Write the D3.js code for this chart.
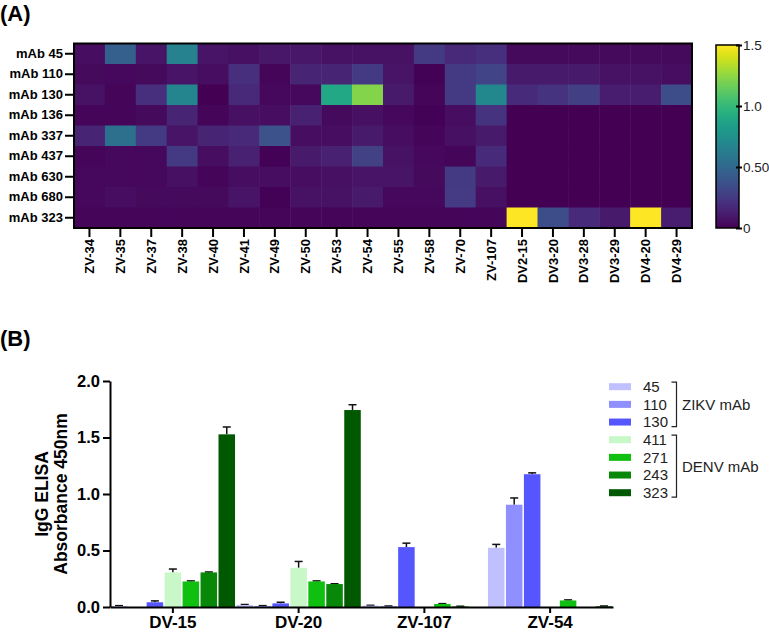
<!DOCTYPE html>
<html><head><meta charset="utf-8">
<script src="https://cdn.jsdelivr.net/npm/d3@7"></script>
<style>body{margin:0;background:#fff}svg{display:block;font-family:"Liberation Sans",Arial,sans-serif}</style>
</head><body><svg id="c" width="769" height="633"></svg>
<script>
// ---------- Panel A data ----------
const heatRows = ["mAb 45","mAb 110","mAb 130","mAb 136","mAb 337","mAb 437","mAb 630","mAb 680","mAb 323"];
const heatCols = ["ZV-34","ZV-35","ZV-37","ZV-38","ZV-40","ZV-41","ZV-49","ZV-50","ZV-53","ZV-54","ZV-55","ZV-58","ZV-70","ZV-107","DV2-15","DV3-20","DV3-28","DV3-29","DV4-20","DV4-29"];
const rowMab45  = [0.05,0.45,0.08,0.66,0.08,0.06,0.09,0.09,0.07,0.07,0.07,0.25,0.17,0.2,0.04,0.04,0.04,0.04,0.04,0.04];
const rowMab110 = [0.04,0.03,0.04,0.08,0.05,0.2,0.02,0.15,0.15,0.25,0.08,0.01,0.25,0.3,0.1,0.1,0.1,0.07,0.07,0.05];
const rowMab130 = [0.07,0.02,0.2,0.68,0.0,0.17,0.03,0.03,0.9,1.22,0.1,0.02,0.25,0.7,0.18,0.22,0.28,0.12,0.12,0.35];
const rowMab136 = [0.02,0.02,0.04,0.15,0.02,0.06,0.05,0.14,0.04,0.06,0.03,0.01,0.05,0.22,0.0,0.0,0.0,0.0,0.0,0.0];
const rowMab337 = [0.15,0.55,0.25,0.08,0.15,0.17,0.38,0.05,0.05,0.1,0.05,0.02,0.06,0.1,0.0,0.0,0.0,0.0,0.0,0.0];
const rowMab437 = [0.02,0.03,0.03,0.25,0.05,0.14,0.01,0.1,0.14,0.29,0.07,0.03,0.02,0.18,0.0,0.0,0.0,0.0,0.0,0.0];
const rowMab630 = [0.03,0.03,0.03,0.06,0.02,0.05,0.05,0.05,0.06,0.08,0.08,0.04,0.25,0.1,0.0,0.0,0.0,0.0,0.0,0.0];
const rowMab680 = [0.03,0.05,0.04,0.04,0.04,0.08,0.01,0.07,0.07,0.1,0.03,0.03,0.26,0.06,0.0,0.0,0.0,0.0,0.0,0.0];
const rowMab323 = [0.02,0.02,0.02,0.02,0.02,0.02,0.02,0.02,0.02,0.02,0.02,0.02,0.02,0.02,1.5,0.35,0.18,0.1,1.5,0.12];
const heatValues = [rowMab45,rowMab110,rowMab130,rowMab136,rowMab337,rowMab437,rowMab630,rowMab680,rowMab323];
const colorbarTicks = [0,0.5,1.0,1.5];
const colorbarTickLabels = ["0","0.50","1.0","1.5"];

// ---------- Panel B data ----------
const groups = ["DV-15","DV-20","ZV-107","ZV-54"];
const seriesNames = ["45","110","130","411","271","243","323"];
const seriesColors = ["#c0c0ff","#8f8fff","#5656ff","#c8f8c8","#10c010","#088808","#005800"];
const val45  = [0.008,0.018,0.012,0.524];  const err45  = [0.004,0.004,0.003,0.03];
const val110 = [0,0.008,0.006,0.905];      const err110 = [0,0.004,0.003,0.06];
const val130 = [0.042,0.032,0.53,1.175];   const err130 = [0.012,0.01,0.035,0.012];
const val411 = [0.306,0.347,0,0];          const err411 = [0.03,0.056,0,0];
const val271 = [0.226,0.226,0.027,0.058];  const err271 = [0.005,0.005,0.003,0.005];
const val243 = [0.306,0.203,0.005,0];      const err243 = [0.004,0.003,0.002,0];
const val323 = [1.528,1.743,0,0.006];      const err323 = [0.065,0.047,0,0.003];
const seriesVals = [val45,val110,val130,val411,val271,val243,val323];
const seriesErrs = [err45,err110,err130,err411,err271,err243,err323];
const yTicks = [0,0.5,1.0,1.5,2.0];
const legendGroups = [{label:"ZIKV mAb", from:0, to:2},{label:"DENV mAb", from:3, to:6}];

const svg = d3.select("#c");

// ===== Panel A =====
svg.append("text").attr("x",0).attr("y",21).attr("font-size",22).attr("font-weight","bold").text("(A)");

const hx = d3.scaleBand().domain(heatCols).range([74,692]);
const hy = d3.scaleBand().domain(heatRows).range([43.5,228]);
const hcolor = d3.scaleSequential(d3.interpolateViridis).domain([0,1.5]);

const cells = [];
heatRows.forEach((r,i)=>heatCols.forEach((c,j)=>cells.push({r,c,v:heatValues[i][j]})));
svg.append("g").selectAll("rect").data(cells).join("rect")
  .attr("x",d=>hx(d.c)).attr("y",d=>hy(d.r))
  .attr("width",hx.bandwidth()+0.5).attr("height",hy.bandwidth()+0.5)
  .attr("fill",d=>hcolor(d.v));
svg.append("rect").attr("x",74).attr("y",43.5).attr("width",618).attr("height",184.5)
  .attr("fill","none").attr("stroke","#000").attr("stroke-width",2);

const yAxA = svg.append("g").attr("transform","translate(73,0)")
  .call(d3.axisLeft(hy).tickSize(8).tickPadding(2));
yAxA.select(".domain").remove();
yAxA.selectAll("line").attr("stroke-width",2);
yAxA.selectAll("text").attr("font-size",13).attr("font-weight","bold").attr("fill","#000");

const xAxA = svg.append("g").attr("transform","translate(0,229)")
  .call(d3.axisBottom(hx).tickSize(8).tickPadding(2));
xAxA.select(".domain").remove();
xAxA.selectAll("line").attr("stroke-width",2);
xAxA.selectAll("text").attr("font-size",13).attr("font-weight","bold").attr("fill","#000")
  .attr("transform","rotate(-90)").attr("text-anchor","end")
  .attr("x",-10).attr("y",0).attr("dy","0.35em");

// colorbar
const defs = svg.append("defs");
const grad = defs.append("linearGradient").attr("id","vir").attr("x1",0).attr("y1",1).attr("x2",0).attr("y2",0);
d3.range(0,1.0001,0.05).forEach(t=>grad.append("stop").attr("offset",t).attr("stop-color",d3.interpolateViridis(t)));
const cy = d3.scaleLinear().domain([0,1.5]).range([228,45]);
svg.append("rect").attr("x",716).attr("y",45).attr("width",23).attr("height",183)
  .attr("fill","url(#vir)").attr("stroke","#000").attr("stroke-width",1.5);
const cAx = svg.append("g").attr("transform","translate(736,0)")
  .call(d3.axisRight(cy).tickValues(colorbarTicks).tickFormat((d,i)=>colorbarTickLabels[i]).tickSize(6).tickPadding(1));
cAx.select(".domain").remove();
cAx.selectAll("line").attr("stroke-width",2);
cAx.selectAll("text").attr("font-size",13.5).attr("fill","#222");

// ===== Panel B =====
svg.append("text").attr("x",0).attr("y",346).attr("font-size",22).attr("font-weight","bold").text("(B)");

const bx = d3.scaleBand().domain(groups).range([110,613]);
const bx1 = d3.scaleBand().domain(seriesNames).range([0,bx.bandwidth()]).paddingInner(0.08).paddingOuter(0.04);
const by = d3.scaleLinear().domain([0,2]).range([607,381]);

const bars = [];
groups.forEach((g,gi)=>seriesNames.forEach((s,si)=>bars.push({g,s,si,v:seriesVals[si][gi],e:seriesErrs[si][gi]})));

// error bars
const eg = svg.append("g").attr("stroke","#111").attr("stroke-width",1.5);
bars.filter(d=>d.e>0).forEach(d=>{
  const cx = bx(d.g)+bx1(d.s)+bx1.bandwidth()/2;
  eg.append("line").attr("x1",cx).attr("x2",cx).attr("y1",by(d.v)).attr("y2",by(d.v+d.e));
  eg.append("line").attr("x1",cx-4).attr("x2",cx+4).attr("y1",by(d.v+d.e)).attr("y2",by(d.v+d.e));
});
svg.append("g").selectAll("rect").data(bars.filter(d=>d.v>0)).join("rect")
  .attr("x",d=>bx(d.g)+bx1(d.s)).attr("width",bx1.bandwidth())
  .attr("y",d=>by(d.v)).attr("height",d=>by(0)-by(d.v))
  .attr("fill",d=>seriesColors[d.si]);

const yAxB = svg.append("g").attr("transform","translate(110,0)")
  .call(d3.axisLeft(by).tickValues(yTicks).tickFormat(d3.format(".1f")).tickSize(7).tickPadding(3).tickSizeOuter(0));
yAxB.select(".domain").attr("stroke-width",2);
yAxB.selectAll("line").attr("stroke-width",2);
yAxB.selectAll("text").attr("font-size",16.5).attr("font-weight","bold").attr("fill","#000");

const xAxB = svg.append("g").attr("transform","translate(0,607)")
  .call(d3.axisBottom(bx).tickSize(6).tickPadding(3).tickSizeOuter(0));
xAxB.select(".domain").attr("stroke-width",2);
xAxB.selectAll("line").attr("stroke-width",2);
xAxB.selectAll("text").attr("font-size",17).attr("font-weight","bold").attr("fill","#000");

svg.append("text").attr("transform","translate(48,494) rotate(-90)").attr("text-anchor","middle")
  .attr("font-size",17.5).attr("font-weight","bold").text("IgG ELISA");
svg.append("text").attr("transform","translate(67,494) rotate(-90)").attr("text-anchor","middle")
  .attr("font-size",17.5).attr("font-weight","bold").text("Absorbance 450nm");

// legend
const ly = d3.scaleLinear().domain([0,6]).range([386.7,492.7]);
const lg = svg.append("g");
seriesNames.forEach((s,i)=>{
  lg.append("rect").attr("x",609).attr("y",ly(i)-3.5).attr("width",22).attr("height",7).attr("fill",seriesColors[i]);
  lg.append("text").attr("x",643).attr("y",ly(i)).attr("dy","0.36em").attr("font-size",15).attr("fill","#222").text(s);
});
legendGroups.forEach(gp=>{
  const y0 = ly(gp.from)-4.5, y1 = ly(gp.to)+4.5;
  lg.append("path").attr("d",`M671.5,${y0}H676.5V${y1}H671.5`).attr("fill","none").attr("stroke","#222").attr("stroke-width",1.2);
  lg.append("text").attr("x",682).attr("y",(y0+y1)/2).attr("dy","0.36em").attr("font-size",15).attr("fill","#222").text(gp.label);
});
</script></body></html>
